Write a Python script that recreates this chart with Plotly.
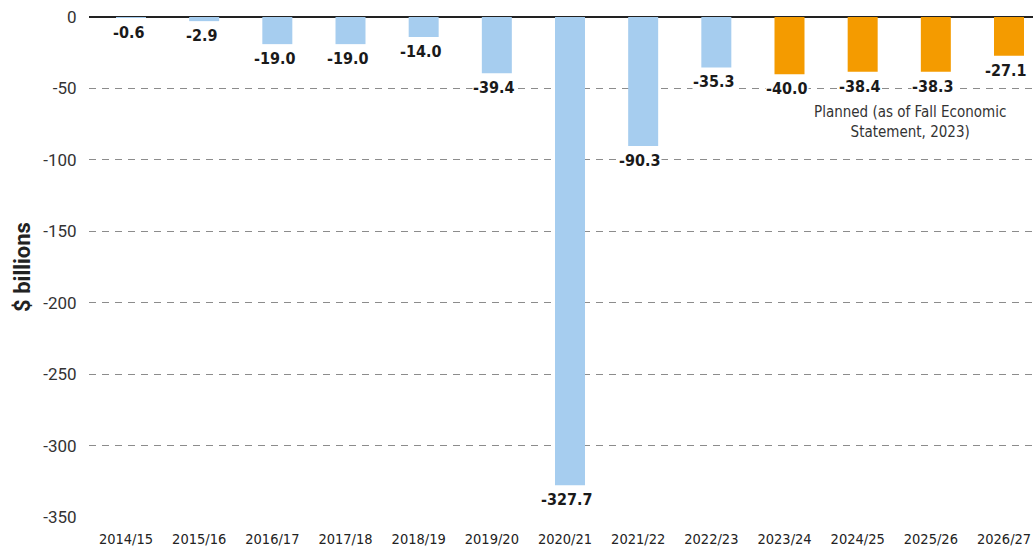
import plotly.graph_objects as go

years = ["2014/15", "2015/16", "2016/17", "2017/18", "2018/19", "2019/20", "2020/21",
         "2021/22", "2022/23", "2023/24", "2024/25", "2025/26", "2026/27"]
values = [-0.6, -2.9, -19.0, -19.0, -14.0, -39.4, -327.7, -90.3, -35.3, -40.0, -38.4, -38.3, -27.1]
planned = [False] * 9 + [True] * 4
y_ticks = [0, -50, -100, -150, -200, -250, -300, -350]

BLUE = "#a6cdef"
ORANGE = "#f49b00"
COND = "DejaVu Sans Condensed, Roboto, sans-serif"

fig = go.Figure()
fig.add_trace(go.Bar(
    x=list(range(len(years))), y=values,
    marker=dict(color=[ORANGE if p else BLUE for p in planned], line=dict(width=0)),
    width=0.41, offset=-0.137, hoverinfo="skip",
))

annotations = []
for i, v in enumerate(values):
    annotations.append(dict(
        x=i + 0.03, y=v, xref="x", yref="y", text=f"{v:.1f}",
        showarrow=False, yanchor="top", yshift=-4,
        font=dict(family=COND, size=16, color="#1a1a1a", weight="bold"),
        bgcolor="white", borderpad=0,
    ))
annotations.append(dict(
    x=10.715, y=-59, xref="x", yref="y",
    text="Planned (as of Fall Economic<br>Statement, 2023)",
    showarrow=False, yanchor="top", xanchor="center",
    font=dict(family=COND, size=15, color="#333333"),
    bgcolor="white", borderpad=1,
))

fig.update_layout(
    width=1033, height=551,
    margin=dict(l=89, r=0, t=17, b=34),
    plot_bgcolor="white", paper_bgcolor="white",
    showlegend=False,
    annotations=annotations,
    xaxis=dict(
        range=[-0.506, 12.396], tickmode="array",
        tickvals=list(range(len(years))), ticktext=years,
        showgrid=False, zeroline=False, showline=False, automargin=False,
        ticklabeloverflow="allow",
        tickfont=dict(family=COND, size=14.5, color="#222222"),
        ticks="outside", ticklen=9, tickcolor="rgba(0,0,0,0)",
    ),
    yaxis=dict(
        range=[-350, 0], tickmode="array", tickvals=y_ticks,
        ticktext=[str(t) for t in y_ticks], automargin=False,
        ticklabeloverflow="allow",
        showgrid=True, gridcolor="#8c8c8c", gridwidth=1, griddash="7px,6px",
        zeroline=True, zerolinecolor="#222222", zerolinewidth=1.5,
        showline=False,
        tickfont=dict(family="Roboto, sans-serif", size=17, color="#333333"),
        ticks="outside", ticklen=8, tickcolor="rgba(0,0,0,0)",
        title=dict(text="$ billions", standoff=6,
                   font=dict(family="Roboto, sans-serif", size=22, color="#222222", weight="bold")),
    ),
)

# remove the default page margin so the 1033x551 figure fills the window exactly
fig.write_html("out.html", config={"displayModeBar": False},
               post_script="document.body.style.margin='0';")
